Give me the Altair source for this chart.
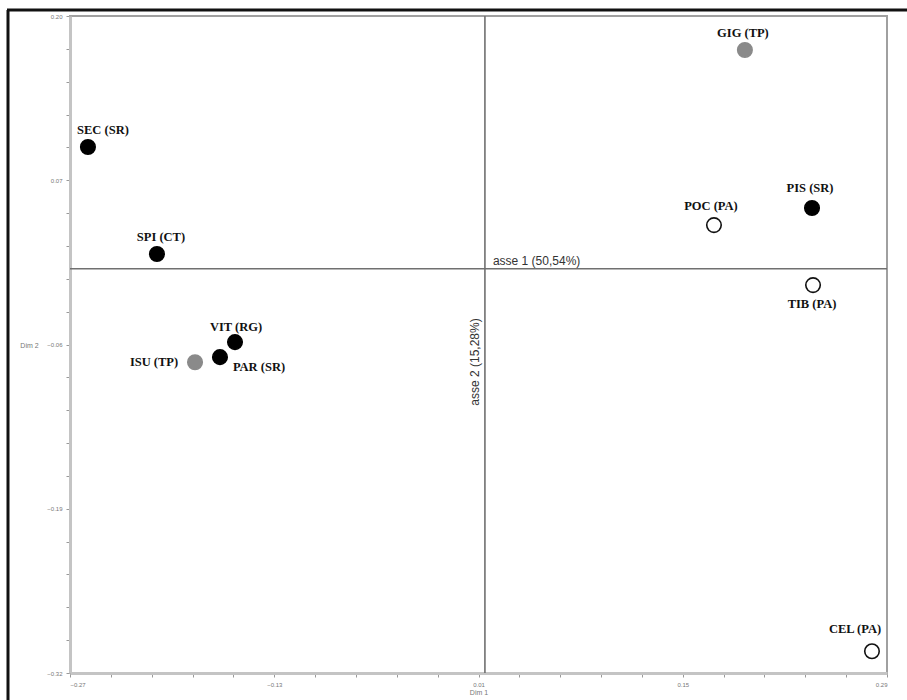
import altair as alt
import pandas as pd

# Row points of the correspondence analysis (Dim 1 / Dim 2)
names = ["SEC (SR)", "SPI (CT)", "VIT (RG)", "PAR (SR)", "ISU (TP)",
         "GIG (TP)", "PIS (SR)", "POC (PA)", "TIB (PA)", "CEL (PA)"]
dim1 = [-0.2577, -0.2104, -0.1569, -0.1672, -0.1843,
        0.1926, 0.2386, 0.1714, 0.2393, 0.2797]
dim2 = [0.0963, 0.0116, -0.0581, -0.0700, -0.0740,
        0.1731, 0.0480, 0.0345, -0.0130, -0.3028]
groups = ["SR", "CT", "RG", "SR", "TP", "TP", "SR", "PA", "PA", "PA"]

# Major tick labels of both axes
x_major = [-0.27, -0.13, 0.01, 0.15, 0.29]
y_major = [-0.32, -0.19, -0.06, 0.07, 0.20]

# Where the two principal axes cross
cross_x = 0.0144
cross_y = 0.0

axis1_label = "asse 1 (50,54%)"
axis2_label = "asse 2 (15,28%)"

df = pd.DataFrame({"name": names, "dim1": dim1, "dim2": dim2, "group": groups})

# minor ticks: five per major interval
x_step = (x_major[1] - x_major[0]) / 5
y_step = (y_major[1] - y_major[0]) / 5
x_ticks = [round(x_major[0] + i * x_step, 4) for i in range(21)]
y_ticks = [round(y_major[0] + i * y_step, 4) for i in range(21)]

x_scale = alt.Scale(domain=[x_major[0], x_major[-1]], nice=False, zero=False)
y_scale = alt.Scale(domain=[y_major[0], y_major[-1]], nice=False, zero=False)

label_font = "Liberation Serif"
tick_font = "Liberation Sans"


def major_only(first, step):
    # keep the label only on every fifth tick
    return (f"abs((datum.value - ({first})) / {step} - round((datum.value - ({first})) / {step})) < 0.01"
            " ? datum.label : ''")


x_axis = alt.Axis(
    values=x_ticks, tickCount=len(x_ticks), format=".2f", grid=False, labelOverlap=False,
    labelExpr=major_only(x_major[0], x_major[1] - x_major[0]),
    labelFontSize=6, labelColor="#777", labelFont=tick_font, labelPadding=4,
    tickSize=4, tickColor="#999", domainColor="#c4c4c4", domainWidth=3,
    title="Dim 1", titleFontSize=7, titleFontWeight="normal", titleColor="#777",
    titleFont=tick_font, titlePadding=1,
)
y_axis = alt.Axis(
    values=y_ticks, tickCount=len(y_ticks), format=".2f", grid=False, labelOverlap=False,
    labelExpr=major_only(y_major[0], y_major[1] - y_major[0]),
    labelFontSize=6, labelColor="#777", labelFont=tick_font, labelPadding=4,
    tickSize=4, tickColor="#999", domainColor="#c4c4c4", domainWidth=3,
    title="Dim 2", titleFontSize=7, titleFontWeight="normal", titleColor="#777",
    titleFont=tick_font, titleAngle=0, titleAlign="center", titleBaseline="middle",
    titleX=-41, titleY=329,
)

base = alt.Chart(df)

points = base.mark_point(shape="circle", size=210, filled=False, opacity=1).encode(
    x=alt.X("dim1:Q", scale=x_scale, axis=x_axis),
    y=alt.Y("dim2:Q", scale=y_scale, axis=y_axis),
    fill=alt.Fill("group:N", scale=alt.Scale(
        domain=["SR", "CT", "RG", "TP", "PA"],
        range=["#000000", "#000000", "#000000", "#8a8a8a", "#ffffff"]), legend=None),
    stroke=alt.Stroke("group:N", scale=alt.Scale(
        domain=["SR", "CT", "RG", "TP", "PA"],
        range=["#000000", "#000000", "#000000", "#8a8a8a", "#111111"]), legend=None),
    strokeWidth=alt.value(1.6),
)

# label offsets (pixels) around each point
label_offsets = {
    "SEC (SR)": (15, -17), "SPI (CT)": (4, -17), "VIT (RG)": (1, -15),
    "PAR (SR)": (39, 10), "ISU (TP)": (-41, 0), "GIG (TP)": (-2, -17),
    "PIS (SR)": (-2, -20), "POC (PA)": (-3, -19), "TIB (PA)": (-1, 19),
    "CEL (PA)": (-17, -22),
}
labels = [
    base.transform_filter(alt.datum.name == n).mark_text(
        font=label_font, fontWeight="bold", fontSize=12.5, color="#111",
        align="center", baseline="middle", dx=dx, dy=dy,
    ).encode(x="dim1:Q", y="dim2:Q", text="name:N")
    for n, (dx, dy) in label_offsets.items()
]

cross_h = alt.Chart().mark_rule(color="#707070", strokeWidth=1.6).encode(
    y=alt.datum(cross_y, scale=y_scale)
)
cross_v = alt.Chart().mark_rule(color="#707070", strokeWidth=1.6).encode(
    x=alt.datum(cross_x, scale=x_scale)
)
text1 = alt.Chart().mark_text(
    font=tick_font, fontSize=12, color="#333", align="left", baseline="middle", dx=8, dy=-8
).encode(x=alt.datum(cross_x, scale=x_scale), y=alt.datum(cross_y, scale=y_scale),
         text=alt.value(axis1_label))
text2 = alt.Chart().mark_text(
    font=tick_font, fontSize=12, color="#333", align="center", baseline="bottom",
    angle=270, dy=-3
).encode(x=alt.datum(cross_x, scale=x_scale), y=alt.value(346),
         text=alt.value(axis2_label))

# outer black frame of the figure
frame_left = alt.Chart().mark_rule(color="#111", strokeWidth=3, clip=False).encode(
    x=alt.value(-62), y=alt.value(-6), y2=alt.value(700))
frame_top = alt.Chart().mark_rule(color="#111", strokeWidth=3, clip=False).encode(
    x=alt.value(-63), x2=alt.value(900), y=alt.value(-6))

chart = alt.layer(
    cross_h, cross_v, text1, text2, points, *labels, frame_left, frame_top
).properties(
    width=817, height=657,
    padding={"left": 70, "top": 16, "right": 20, "bottom": 27},
    autosize=alt.AutoSizeParams(type="none"),
    background="white",
).configure_view(stroke="#a0a0a0", strokeWidth=2)

chart.save("out.html", embed_options={"renderer": "svg", "actions": False})
